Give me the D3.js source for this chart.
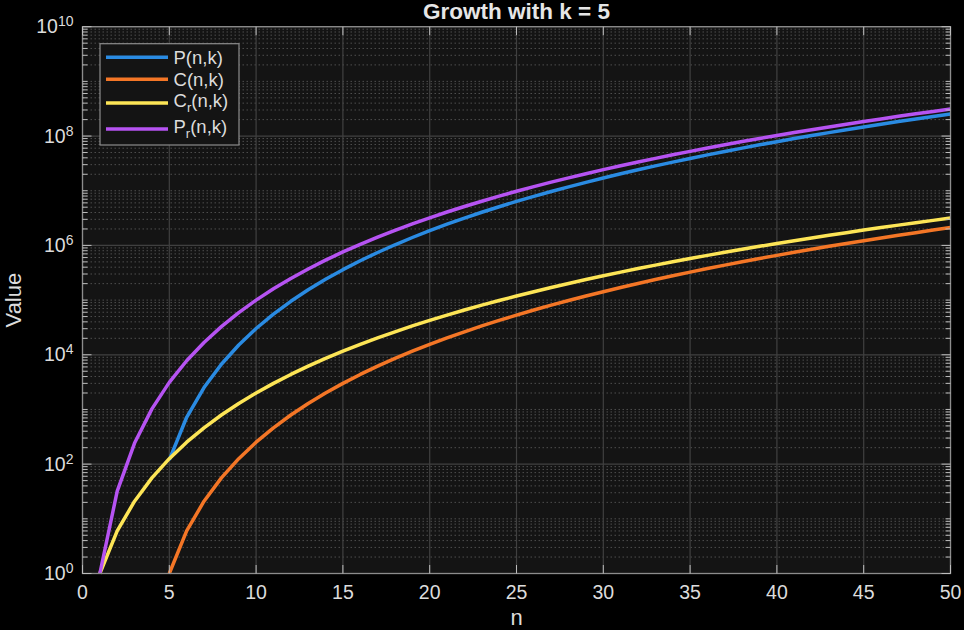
<!DOCTYPE html>
<html>
<head>
<meta charset="utf-8">
<script src="https://cdn.jsdelivr.net/npm/d3@7"></script>
<style>
html,body{margin:0;padding:0;background:#000;}
svg{display:block;font-family:"Liberation Sans",Arial,Helvetica,sans-serif;}
</style>
</head>
<body>
<svg id="chart" width="964" height="630"></svg>
<script>
// ---- data ----
const nP = d3.range(5, 51);        // n for P(n,k), C(n,k)
const nAll = d3.range(1, 51);      // n for Cr(n,k), Pr(n,k)
const valuesP = [120,720,2520,6720,15120,30240,55440,95040,154440,240240,360360,524160,742560,1028160,1395360,1860480,2441880,3160080,4037880,5100480,6375600,7893600,9687600,11793600,14250600,17100720,20389320,24165120,28480320,33390720,38955840,45239040,52307640,60233040,69090840,78960960,89927760,102080160,115511760,130320960,146611080,164490480,184072680,205476480,228826080,254251200];
const valuesC = [1,6,21,56,126,252,462,792,1287,2002,3003,4368,6188,8568,11628,15504,20349,26334,33649,42504,53130,65780,80730,98280,118755,142506,169911,201376,237336,278256,324632,376992,435897,501942,575757,658008,749398,850668,962598,1086008,1221759,1370754,1533939,1712304,1906884,2118760];
const valuesCr = [1,6,21,56,126,252,462,792,1287,2002,3003,4368,6188,8568,11628,15504,20349,26334,33649,42504,53130,65780,80730,98280,118755,142506,169911,201376,237336,278256,324632,376992,435897,501942,575757,658008,749398,850668,962598,1086008,1221759,1370754,1533939,1712304,1906884,2118760,2349060,2598960,2869685,3162510];
const valuesPr = [1,32,243,1024,3125,7776,16807,32768,59049,100000,161051,248832,371293,537824,759375,1048576,1419857,1889568,2476099,3200000,4084101,5153632,6436343,7962624,9765625,11881376,14348907,17210368,20511149,24300000,28629151,33554432,39135393,45435424,52521875,60466176,69343957,79235168,90224199,102400000,115856201,130691232,147008443,164916224,184528125,205962976,229345007,254803968,282475249,312500000];
const seriesNames = ["P", "C", "C", "P"];
const seriesSubs = ["", "", "r", "r"];
const xTicks = [0,5,10,15,20,25,30,35,40,45,50];
const yExponents = [0,2,4,6,8,10];
const titleText = "Growth with k = 5";

// ---- layout ----
const L = 82.5, R = 950.5, T = 26.7, B = 573.5;
const colors = ["#2a8be2", "#f47626", "#fde556", "#b653f2"];
const series = [
  {x: nP, y: valuesP},
  {x: nP, y: valuesC},
  {x: nAll, y: valuesCr},
  {x: nAll, y: valuesPr}
];

const svg = d3.select("#chart");
const x = d3.scaleLinear().domain([0, 50]).range([L, R]);
const y = d3.scaleLog().domain([1, 1e10]).range([B, T]);

svg.append("rect").attr("width", 964).attr("height", 630).attr("fill", "#000");
svg.append("rect").attr("x", L).attr("y", T).attr("width", R - L).attr("height", B - T).attr("fill", "#141414");

// minor y values (all m*10^e except the labeled major ticks)
const majorY = yExponents.map(e => Math.pow(10, e));
const minorY = [];
for (let e = 0; e < 10; e++) for (let m = 1; m <= 9; m++) {
  const v = m * Math.pow(10, e);
  if (!(m === 1 && yExponents.includes(e))) minorY.push(v);
}

const grid = svg.append("g");
grid.selectAll(".minor").data(minorY).enter().append("line")
  .attr("x1", L).attr("x2", R)
  .attr("y1", d => y(d)).attr("y2", d => y(d))
  .attr("stroke", "#4e4e4e").attr("stroke-width", 1)
  .attr("stroke-dasharray", "1.5,2.5");
grid.selectAll(".majy").data(majorY).enter().append("line")
  .attr("x1", L).attr("x2", R)
  .attr("y1", d => y(d)).attr("y2", d => y(d))
  .attr("stroke", "#404040").attr("stroke-width", 1.2);
grid.selectAll(".majx").data(xTicks).enter().append("line")
  .attr("x1", d => x(d)).attr("x2", d => x(d))
  .attr("y1", T).attr("y2", B)
  .attr("stroke", "#404040").attr("stroke-width", 1.2);

// clip
svg.append("clipPath").attr("id", "clip").append("rect")
  .attr("x", L).attr("y", T - 2).attr("width", R - L).attr("height", B - T + 4);

const line = d3.line().x(d => x(d[0])).y(d => y(d[1]));
const lines = svg.append("g").attr("clip-path", "url(#clip)");
series.forEach((s, i) => {
  lines.append("path")
    .datum(s.x.map((n, j) => [n, s.y[j]]))
    .attr("d", line)
    .attr("fill", "none")
    .attr("stroke", colors[i])
    .attr("stroke-width", 3.5)
    .attr("stroke-linejoin", "round");
});

// axes box and ticks
const axc = "#8c8c8c";
const ax = svg.append("g");
ax.append("rect").attr("x", L).attr("y", T).attr("width", R - L).attr("height", B - T)
  .attr("fill", "none").attr("stroke", axc).attr("stroke-width", 1.3);
xTicks.forEach(t => {
  ax.append("line").attr("x1", x(t)).attr("x2", x(t)).attr("y1", B).attr("y2", B - 8.5).attr("stroke", "#bdbdbd").attr("stroke-width", 1);
  ax.append("line").attr("x1", x(t)).attr("x2", x(t)).attr("y1", T).attr("y2", T + 8.5).attr("stroke", "#bdbdbd").attr("stroke-width", 1);
});
majorY.forEach(v => {
  ax.append("line").attr("x1", L).attr("x2", L + 9).attr("y1", y(v)).attr("y2", y(v)).attr("stroke", "#bdbdbd");
  ax.append("line").attr("x1", R).attr("x2", R - 9).attr("y1", y(v)).attr("y2", y(v)).attr("stroke", "#bdbdbd");
});
minorY.forEach(v => {
  ax.append("line").attr("x1", L).attr("x2", L + 5).attr("y1", y(v)).attr("y2", y(v)).attr("stroke", "#bdbdbd");
  ax.append("line").attr("x1", R).attr("x2", R - 5).attr("y1", y(v)).attr("y2", y(v)).attr("stroke", "#bdbdbd");
});

const txt = "#dcdcdc";
svg.append("g").selectAll("text").data(xTicks).enter().append("text")
  .attr("x", d => x(d)).attr("y", 598.5)
  .attr("text-anchor", "middle").attr("font-size", 19.5).attr("fill", txt)
  .text(d => d);
yExponents.forEach(e => {
  const yy = y(Math.pow(10, e));
  const t = svg.append("text").attr("x", 73.5).attr("y", yy + 6.5)
    .attr("text-anchor", "end").attr("font-size", 19.5).attr("fill", txt);
  t.append("tspan").text("10");
  t.append("tspan").attr("dy", -7).attr("font-size", 14).text(e);
});

svg.append("text").attr("x", (L + R) / 2).attr("y", 18.5).attr("text-anchor", "middle")
  .attr("font-size", 22.5).attr("font-weight", "bold").attr("fill", "#e6e6e6").text(titleText);
svg.append("text").attr("x", (L + R) / 2).attr("y", 625).attr("text-anchor", "middle")
  .attr("font-size", 22).attr("fill", txt).text("n");
svg.append("text").attr("transform", `translate(20.5,${(T + B) / 2}) rotate(-90)`)
  .attr("text-anchor", "middle").attr("font-size", 22).attr("fill", txt).text("Value");

// legend
const lg = svg.append("g");
lg.append("rect").attr("x", 100).attr("y", 43.7).attr("width", 139).attr("height", 101.3)
  .attr("fill", "#141414").attr("stroke", "#8c8c8c").attr("stroke-width", 1.2);
const rowY = [57.3, 79.3, 103, 129];
seriesNames.forEach((nm, i) => {
  lg.append("line").attr("x1", 106).attr("x2", 168).attr("y1", rowY[i]).attr("y2", rowY[i])
    .attr("stroke", colors[i]).attr("stroke-width", 3.5);
  const t = lg.append("text").attr("x", 173.5).attr("y", rowY[i] + (seriesSubs[i] ? 4 : 6.5))
    .attr("font-size", 18.5).attr("fill", txt);
  t.append("tspan").text(nm);
  if (seriesSubs[i]) {
    t.append("tspan").attr("dy", 5).attr("font-size", 13).text(seriesSubs[i]);
    t.append("tspan").attr("dy", -5).text("(n,k)");
  } else {
    t.append("tspan").text("(n,k)");
  }
});
</script>
</body>
</html>
